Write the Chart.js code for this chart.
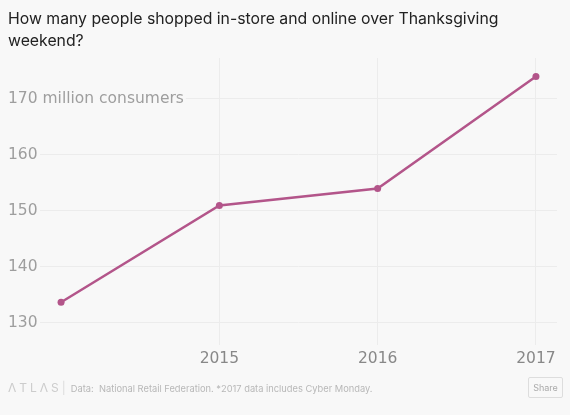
<!DOCTYPE html>
<html>
<head>
<meta charset="utf-8">
<script src="https://cdn.jsdelivr.net/npm/chart.js@4"></script>
<style>
  html, body { margin: 0; padding: 0; background: #f8f8f8; }
  #wrap { position: relative; width: 570px; height: 415px; overflow: hidden; }
  #chart { position: absolute; left: 0; top: 0; }
  #title { position: absolute; left: 8px; top: 8px; width: 510px; font: 15.8px Inter, sans-serif; color: #222; line-height: 22px; }
  #footer { position: absolute; left: 8px; top: 380px; font: 9.3px Inter, sans-serif; color: #b8b8b8; white-space: nowrap; }
  #footer .logo { font-size: 12px; letter-spacing: 3px; color: #ccc; }
  #footer .sep { color: #ddd; margin: 0 5px 0 0; font-size: 12px; }
  #share { position: absolute; left: 528px; top: 377px; width: 35px; height: 21px; border: 1px solid #ddd; border-radius: 2px; font: 9px Inter, sans-serif; color: #aaa; text-align: center; line-height: 19px; box-sizing: border-box; }
</style>
</head>
<body>
<div id="wrap">
  <canvas id="chart" width="570" height="415"></canvas>
  <div id="title">How many people shopped in-store and online over Thanksgiving weekend?</div>
  <div id="footer"><span class="logo">ΛTLΛS</span><span class="sep">|</span>Data:&nbsp; National Retail Federation. *2017 data includes Cyber Monday.</div>
  <div id="share">Share</div>
</div>
<script>
const years = [2014, 2015, 2016, 2017];
const shoppers = [133.7, 151, 154, 174];
const xTicks = [2015, 2016, 2017];
const yTicks = [130, 140, 150, 160, 170];

const ctx = document.getElementById('chart').getContext('2d');
const chart = new Chart(ctx, {
    type: 'line',
    data: {
        datasets: [{
            data: years.map((y, i) => ({ x: y, y: shoppers[i] })),
            borderColor: '#b3558a',
            backgroundColor: '#b3558a',
            borderWidth: 2.5,
            pointRadius: 3.5,
            pointBorderWidth: 0,
            tension: 0,
            fill: false
        }]
    },
    options: {
        responsive: false,
        animation: false,
        layout: { padding: { left: 8, right: 13, top: 58, bottom: 40 } },
        plugins: { legend: { display: false }, tooltip: { enabled: false } },
        scales: {
            x: {
                type: 'linear',
                min: 2013.867,
                max: 2017.133,
                afterBuildTicks: (scale) => { scale.ticks = xTicks.map(v => ({ value: v })); },
                afterFit: (scale) => { scale.height = 30; },
                grid: { color: '#ececec', drawTicks: false },
                border: { display: false },
                ticks: {
                    padding: 5,
                    color: '#888888',
                    font: { family: 'DejaVu Sans', size: 15.5 },
                    callback: (v) => String(v)
                }
            },
            y: {
                min: 126.07,
                max: 177.32,
                afterBuildTicks: (scale) => { scale.ticks = yTicks.map(v => ({ value: v })); },
                afterFit: (scale) => { scale.width = 32; },
                grid: { color: '#ececec', drawTicks: false },
                border: { display: false },
                ticks: {
                    mirror: true,
                    padding: -32,
                    crossAlign: 'near',
                    color: '#9e9e9e',
                    font: { family: 'DejaVu Sans', size: 15.5 },
                    showLabelBackdrop: true,
                    backdropColor: '#f8f8f8',
                    backdropPadding: 2,
                    callback: (v) => v === 170 ? '170 million consumers' : String(v)
                }
            }
        }
    }
});
</script>
</body>
</html>
